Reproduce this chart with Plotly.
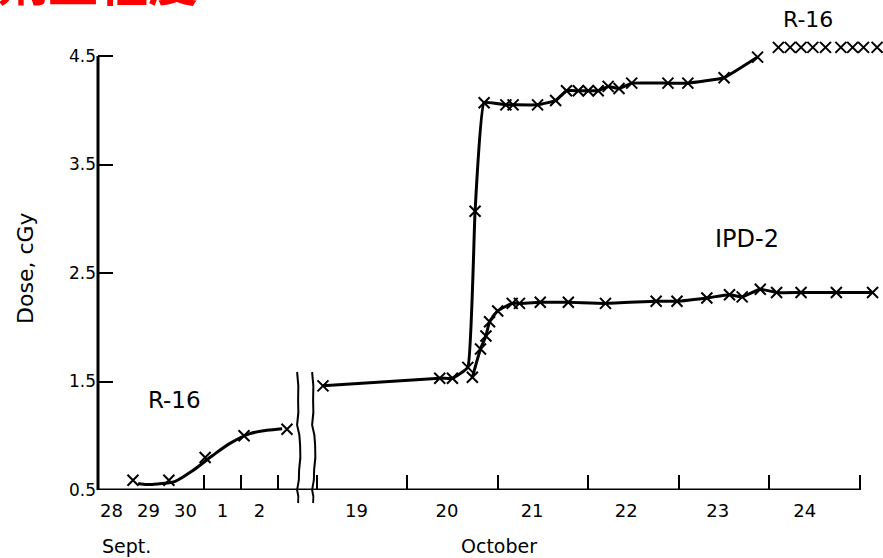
import plotly.graph_objects as go

# ---------------- data ----------------
# Left panel: days counted from 28 Sept 00:00
sept_label_pos = [0.5, 1.5, 2.5, 3.5, 4.5]
sept_labels = ["28", "29", "30", "1", "2"]
sept_tick_pos = [3, 4, 5]

# Right panel: day of October
oct_label_pos = [19.44, 20.44, 21.38, 22.42, 23.43, 24.39]
oct_labels = ["19", "20", "21", "22", "23", "24"]
oct_tick_pos = [19, 20, 21, 22, 23, 24, 25]

y_ticks = [0.5, 1.5, 2.5, 3.5, 4.5]
y_ticklabels = ["0.5", "1.5", "2.5", "3.5", "4.5"]

# R-16, September measurements
r16_sept_day = [1.08, 2.05, 3.03, 4.08, 5.24]
r16_sept_dose = [0.59, 0.59, 0.80, 1.00, 1.06]
# hand-drawn fitted curve, September
r16_sept_fit_day = [1.22, 1.45, 1.73, 2.22, 2.70, 3.24, 3.70, 4.24, 4.70, 5.11]
r16_sept_fit_dose = [0.56, 0.55, 0.555, 0.58, 0.68, 0.82, 0.93, 1.02, 1.05, 1.065]

# R-16, October measurements (connected by the curve)
r16_oct_day = [19.07, 20.36, 20.50, 20.67, 20.75, 20.85, 21.09, 21.17, 21.44, 21.64,
               21.76, 21.89, 22.00, 22.11, 22.22, 22.34, 22.48, 22.88, 23.10, 23.50, 23.87]
r16_oct_dose = [1.46, 1.53, 1.53, 1.63, 3.07, 4.07, 4.05, 4.05, 4.05, 4.09,
                4.18, 4.18, 4.18, 4.18, 4.22, 4.20, 4.25, 4.25, 4.25, 4.30, 4.49]
# R-16, last October points (no curve)
r16_top_day = [24.10, 24.23, 24.35, 24.48, 24.62, 24.79, 24.92, 25.04, 25.19]
r16_top_dose = [4.58, 4.58, 4.58, 4.58, 4.58, 4.58, 4.58, 4.58, 4.58]

# IPD-2, October
ipd2_day = [20.72, 20.81, 20.87, 20.91, 21.00, 21.16, 21.24, 21.47, 21.78, 22.19,
            22.75, 22.98, 23.31, 23.56, 23.70, 23.90, 24.08, 24.35, 24.74, 25.14]
ipd2_dose = [1.54, 1.80, 1.92, 2.05, 2.15, 2.22, 2.22, 2.23, 2.23, 2.22,
             2.24, 2.24, 2.27, 2.30, 2.28, 2.35, 2.32, 2.32, 2.32, 2.32]

# axis extents
Y_MIN, Y_AXIS_TOP, Y_RANGE_TOP = 0.5, 4.5, 4.62
SEPT_RANGE = [0.135, 5.784]
OCT_RANGE = [18.895, 25.2]
OCT_AXIS_END = 25.0

# ---------------- figure ----------------
W, H = 883, 558
ML, MR, MT, MB = 98, 5.4, 43, 68
PW = W - ML - MR
PH = H - MT - MB
split = (307 - ML) / PW

FONT = "DejaVu Sans"
LINE_W = 3
mk = dict(symbol="x-thin", size=11, color="black", line=dict(width=2, color="black"))

fig = go.Figure()

fig.add_trace(go.Scatter(x=r16_sept_fit_day, y=r16_sept_fit_dose, mode="lines",
                         line=dict(color="black", width=LINE_W, shape="spline", smoothing=0.8),
                         xaxis="x", yaxis="y", showlegend=False, hoverinfo="skip"))
fig.add_trace(go.Scatter(x=r16_sept_day, y=r16_sept_dose, mode="markers", marker=mk,
                         xaxis="x", yaxis="y", showlegend=False, cliponaxis=False))

fig.add_trace(go.Scatter(x=r16_oct_day, y=r16_oct_dose, mode="lines+markers",
                         line=dict(color="black", width=LINE_W, shape="spline", smoothing=0.3),
                         marker=mk, xaxis="x2", yaxis="y", showlegend=False, cliponaxis=False))
fig.add_trace(go.Scatter(x=r16_top_day, y=r16_top_dose, mode="markers", marker=mk,
                         xaxis="x2", yaxis="y", showlegend=False, cliponaxis=False))
fig.add_trace(go.Scatter(x=ipd2_day, y=ipd2_dose, mode="lines+markers",
                         line=dict(color="black", width=LINE_W, shape="spline", smoothing=0.5),
                         marker=mk, xaxis="x2", yaxis="y", showlegend=False, cliponaxis=False))

tickfont = dict(family=FONT, size=18, color="black")
xcommon = dict(showline=False, showgrid=False, zeroline=False, ticks="", tickmode="array",
               tickfont=tickfont, ticklabelstandoff=8, anchor="y")

fig.update_layout(
    width=W, height=H,
    margin=dict(l=ML, r=MR, t=MT, b=MB, autoexpand=False),
    paper_bgcolor="white", plot_bgcolor="white",
    xaxis=dict(domain=[0, split], range=SEPT_RANGE,
               tickvals=sept_label_pos, ticktext=sept_labels,
               minor=dict(tickmode="array", tickvals=sept_tick_pos, ticks="inside",
                          ticklen=15, tickwidth=2, tickcolor="black", showgrid=False),
               **xcommon),
    xaxis2=dict(domain=[split, 1], range=OCT_RANGE,
                tickvals=oct_label_pos, ticktext=oct_labels,
                minor=dict(tickmode="array", tickvals=oct_tick_pos, ticks="inside",
                           ticklen=15, tickwidth=2, tickcolor="black", showgrid=False),
                **xcommon),
    yaxis=dict(range=[Y_MIN, Y_RANGE_TOP], tickmode="array", tickvals=y_ticks,
               ticktext=y_ticklabels, ticks="inside", ticklen=15, tickwidth=2,
               tickcolor="black", showline=False, showgrid=False, zeroline=False,
               tickfont=dict(family=FONT, size=17, color="black"), ticklabelstandoff=1),
)

def px_x(p):
    return (p - ML) / PW

def px_y(p):
    return (H - MB - p) / PH

# axis lines (stop at 4.5 and at the end of 24 October)
shapes = [
    dict(type="line", xref="paper", yref="y", x0=0, x1=0, y0=Y_MIN, y1=Y_AXIS_TOP,
         line=dict(color="black", width=LINE_W)),
    dict(type="line", xref="x", yref="y", x0=SEPT_RANGE[0], x1=SEPT_RANGE[1], y0=Y_MIN, y1=Y_MIN,
         line=dict(color="black", width=LINE_W)),
    dict(type="line", xref="x2", yref="y", x0=OCT_RANGE[0], x1=OCT_AXIS_END, y0=Y_MIN, y1=Y_MIN,
         line=dict(color="black", width=LINE_W)),
]

# axis-break wavy lines
def wave(x0):
    pts = [(x0, 372), (x0 + 1, 400), (x0 + 0, 425), (x0 + 3, 445), (x0 + 2, 470), (x0 + 0, 490), (x0 + 1, 503)]
    d = "M {} {}".format(px_x(pts[0][0]), px_y(pts[0][1]))
    for (a, b), (c, e) in zip(pts[:-1], pts[1:]):
        d += " Q {} {} {} {}".format(px_x(a + (c - a) / 2 + 1.5), px_y((b + e) / 2), px_x(c), px_y(e))
    return d

for x0 in (297, 312):
    shapes.append(dict(type="path", path=wave(x0), xref="paper", yref="paper",
                       line=dict(color="black", width=2)))
fig.update_layout(shapes=shapes)

def label(text, x, y, size, angle=0):
    return dict(text=text, x=px_x(x), y=px_y(y), xref="paper", yref="paper",
                xanchor="center", yanchor="middle", textangle=angle, showarrow=False,
                font=dict(family=FONT, size=size, color="black"))

ann = [
    label("R-16", 174, 400, 23),
    label("R-16", 808, 20, 22),
    label("IPD-2", 747, 239, 24),
    label("Sept.", 126, 546, 19),
    label("October", 499, 546, 19),
    label("Dose, cGy", 25, 268, 22, -90),
]
# cropped red heading at the very top of the slide
ann.append(dict(text="<b>剂量程度</b>", x=px_x(-4), y=px_y(17), xref="paper", yref="paper",
                xanchor="left", yanchor="bottom", showarrow=False,
                font=dict(family="Noto Sans CJK SC", size=50, color="#ff0000")))
fig.update_layout(annotations=ann)

fig.write_html("out.html", config={"displayModeBar": False},
               post_script="document.body.style.margin='0px';")
